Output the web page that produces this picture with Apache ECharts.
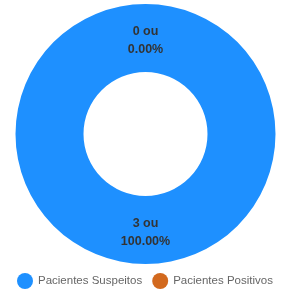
<!DOCTYPE html>
<html><head><meta charset="utf-8">
<script src="https://cdn.jsdelivr.net/npm/echarts@6/dist/echarts.min.js"></script>
<style>html,body{margin:0;padding:0;background:#fff}#c{width:284px;height:290px}</style>
</head><body><div id="c"></div>
<script>
const categories = ['Pacientes Suspeitos', 'Pacientes Positivos'];
const values = [3, 0];
const colors = ['#1E90FF', '#D2691E'];

const chart = echarts.init(document.getElementById('c'), null, {renderer: 'canvas'});
chart.setOption({
  animation: false,
  color: colors,
  legend: {
    top: 273,
    left: 17,
    padding: 0,
    icon: 'circle',
    itemWidth: 16,
    itemHeight: 16,
    itemGap: 10,
    textStyle: {fontSize: 11.5, color: '#666', fontFamily: 'Liberation Sans'}
  },
  series: [{
    type: 'pie',
    center: [145.5, 134],
    radius: [62, 130],
    startAngle: 90,
    clockwise: true,
    minShowLabelAngle: 0,
    stillShowZeroSum: true,
    avoidLabelOverlap: false,
    label: {
      show: true,
      position: 'inside',
      formatter: p => p.value + ' ou\n' + p.percent.toFixed(2) + '%',
      color: '#333',
      fontSize: 12.5,
      fontWeight: 'bold',
      lineHeight: 18,
      fontFamily: 'Liberation Sans'
    },
    labelLine: {show: false},
    itemStyle: {borderWidth: 0},
    data: categories.map((c, i) => ({
      name: c,
      value: values[i],
      label: values[i] === 0 ? {offset: [0, 6]} : {}
    }))
  }]
});
</script></body></html>
